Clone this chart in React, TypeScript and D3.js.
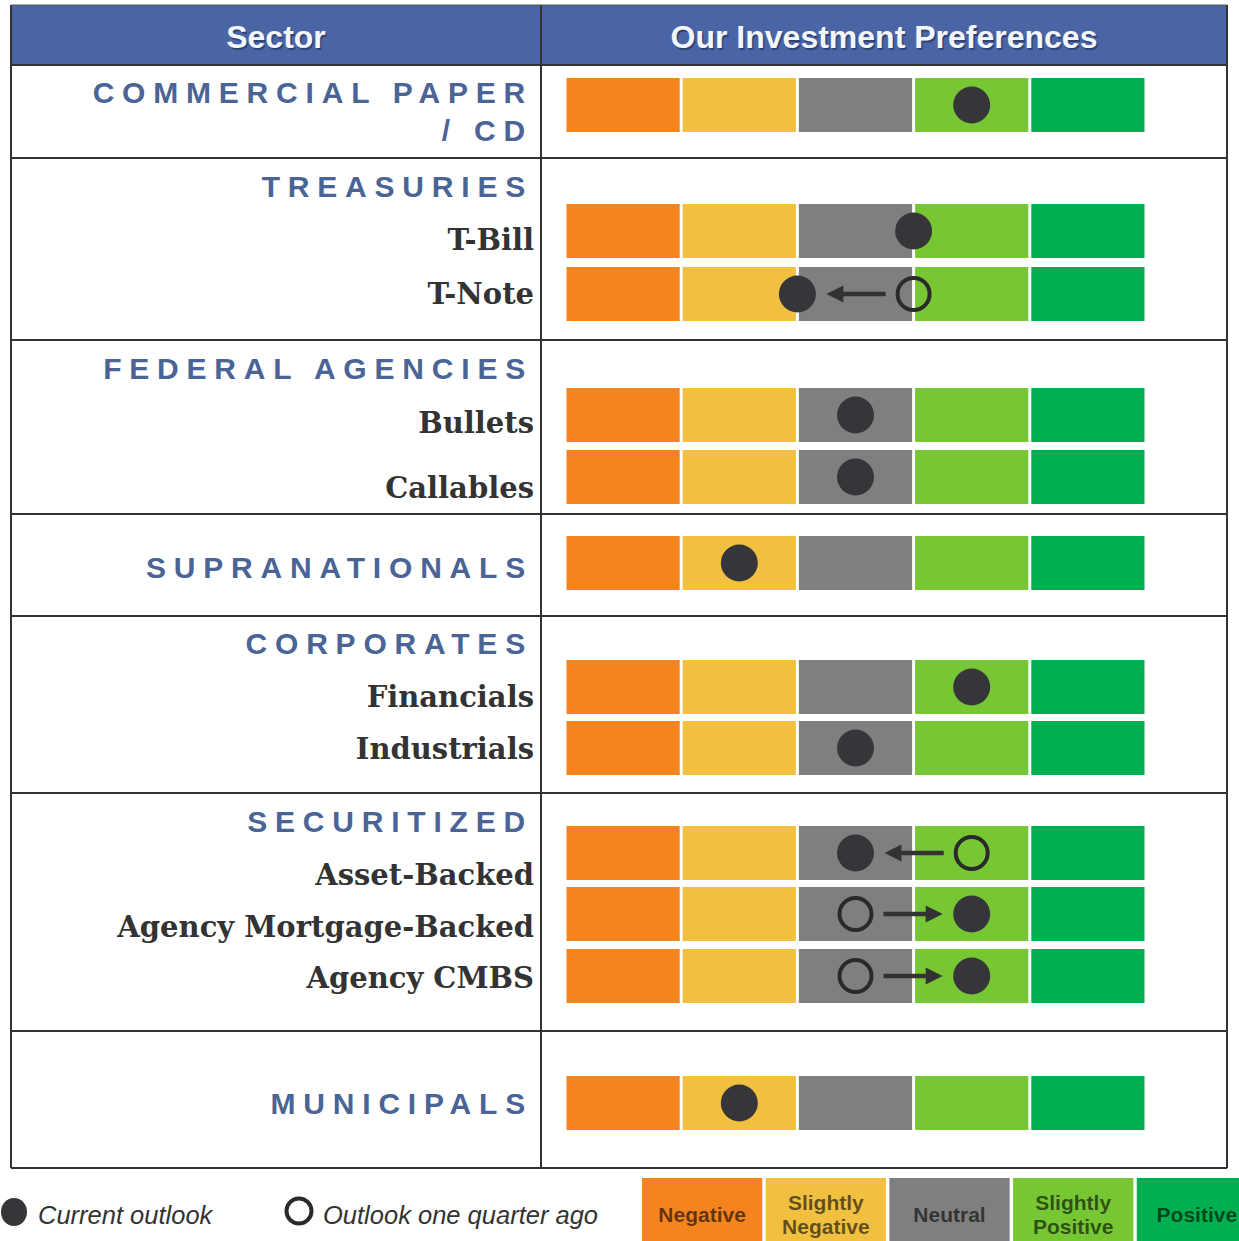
import React from "react";
import * as d3 from "d3";

// ---------- data ----------
const columnHeaders = ["Sector", "Our Investment Preferences"];
const sectorHeadings = [
  ["COMMERCIAL PAPER", "/ CD"],
  ["TREASURIES"],
  ["FEDERAL AGENCIES"],
  ["SUPRANATIONALS"],
  ["CORPORATES"],
  ["SECURITIZED"],
  ["MUNICIPALS"],
];
const rowLabels = [
  "",
  "T-Bill",
  "T-Note",
  "Bullets",
  "Callables",
  "",
  "Financials",
  "Industrials",
  "Asset-Backed",
  "Agency Mortgage-Backed",
  "Agency CMBS",
  "",
];
const rowSector = [0, 1, 1, 2, 2, 3, 4, 4, 5, 5, 5, 6];
// -2 Negative, -1 Slightly Negative, 0 Neutral, 1 Slightly Positive, 2 Positive
const currentOutlook = [1, 0.5, -0.5, 0, 0, -1, 1, 0, 0, 1, 1, -1];
const priorOutlook: (number | null)[] = [null, null, 0.5, null, null, null, null, null, 1, 0, 0, null];
const ratingValues = [-2, -1, 0, 1, 2];
const ratingLabels = [["Negative"], ["Slightly", "Negative"], ["Neutral"], ["Slightly", "Positive"], ["Positive"]];
const ratingColors = ["#f5841f", "#f1c040", "#7f7f7f", "#76c733", "#00b050"];
const legendMarkers = ["Current outlook", "Outlook one quarter ago"];

// ---------- layout ----------
const W = 1239;
const H = 1241;
const tableLeft = 11;
const tableRight = 1227;
const tableTop = 5;
const headerBottom = 65;
const colDivider = 541;
const sectionLines = [65, 158, 340, 514, 616, 793, 1031, 1168];
const headingBaselines = [[103, 141], [197], [379], [578], [654], [832], [1114]];
const labelBaselines = [0, 250, 304, 433, 498, 0, 707, 759, 885, 937, 988, 0];
const barTops = [78, 204, 267, 388, 450, 536, 660, 721, 826, 887, 949, 1076];
const barH = 54;

const SANS = "'Liberation Sans', Arial, Helvetica, sans-serif";
const SERIF = "'DejaVu Serif', Georgia, serif";
const DARK = "#333333";

export default function App() {
  const x = d3.scaleLinear().domain([-2.5, 2.5]).range([565, 1146]);
  const legendX = d3
    .scaleBand<number>()
    .domain(ratingValues)
    .range([642, 1257])
    .paddingInner(0.028)
    .paddingOuter(0);
  const color = d3.scaleOrdinal<number, string>().domain(ratingValues).range(ratingColors);
  const tableBottom = sectionLines[sectionLines.length - 1];
  const ls = 7.8;

  return (
    <svg
      width={W}
      height={H}
      viewBox={`0 0 ${W} ${H}`}
      style={{ position: "absolute", left: 0, top: 0, background: "#fff" }}
    >
      <rect x={0} y={0} width={W} height={H} fill="#fff" />
      {/* header */}
      <rect x={tableLeft} y={tableTop} width={tableRight - tableLeft} height={headerBottom - tableTop} fill="#4a65a5" />
      {columnHeaders.map((h, i) => {
        const cx = i === 0 ? (tableLeft + colDivider) / 2 : (colDivider + tableRight) / 2;
        return (
          <g key={h}>
            <text x={cx + 1.5} y={49.5} textAnchor="middle" fontFamily={SANS} fontWeight="bold" fontSize={32} fill="#1c2a4d" opacity={0.55}>
              {h}
            </text>
            <text x={cx} y={48} textAnchor="middle" fontFamily={SANS} fontWeight="bold" fontSize={32} fill="#f4f6fa">
              {h}
            </text>
          </g>
        );
      })}

      {/* bars */}
      {rowLabels.map((_, r) => (
        <g key={"bar" + r}>
          {ratingValues.map((v) => (
            <rect
              key={v}
              x={x(v - 0.5) + 1.5}
              y={barTops[r]}
              width={x(v + 0.5) - x(v - 0.5) - 3}
              height={barH}
              fill={color(v)}
            />
          ))}
        </g>
      ))}

      {/* arrows + markers */}
      {rowLabels.map((_, r) => {
        const cy = barTops[r] + barH / 2;
        const cur = currentOutlook[r];
        const prev = priorOutlook[r];
        const els: React.ReactNode[] = [];
        if (prev !== null && prev !== undefined) {
          const d = Math.sign(cur - prev);
          const tail = x(prev) + d * 28;
          const tip = x(cur) - d * 29;
          els.push(
            <line key="l" x1={tail} y1={cy} x2={tip - d * 12} y2={cy} stroke={DARK} strokeWidth={4.5} />,
            <polygon
              key="h"
              points={`${tip},${cy} ${tip - d * 17},${cy - 8.5} ${tip - d * 17},${cy + 8.5}`}
              fill={DARK}
            />,
            <circle key="p" cx={x(prev)} cy={cy} r={16} fill="none" stroke="#2a2a2a" strokeWidth={4} />
          );
        }
        els.push(<circle key="c" cx={x(cur)} cy={cy} r={18.5} fill="#35353a" />);
        return <g key={"m" + r}>{els}</g>;
      })}

      {/* sector headings */}
      {sectorHeadings.map((lines, s) =>
        lines.map((t, j) => (
          <text
            key={s + "-" + j}
            x={533}
            y={headingBaselines[s][j]}
            textAnchor="end"
            fontFamily={SANS}
            fontWeight="bold"
            fontSize={30}
            letterSpacing={ls}
            fill="#4b6496"
          >
            {t}
          </text>
        ))
      )}

      {/* sub-sector labels */}
      {rowLabels.map((t, r) =>
        t ? (
          <text key={"lab" + r} x={534} y={labelBaselines[r]} textAnchor="end" fontFamily={SERIF} fontWeight="bold" fontSize={29} fill={DARK}>
            {t}
          </text>
        ) : null
      )}

      {/* table lines */}
      {sectionLines.map((y, i) => (
        <line key={"h" + i} x1={tableLeft} x2={tableRight} y1={y} y2={y} stroke={DARK} strokeWidth={2} />
      ))}
      <line x1={tableLeft} x2={tableLeft} y1={tableTop} y2={tableBottom} stroke={DARK} strokeWidth={2} />
      <line x1={tableRight} x2={tableRight} y1={tableTop} y2={tableBottom} stroke={DARK} strokeWidth={2} />
      <line x1={colDivider} x2={colDivider} y1={tableTop} y2={tableBottom} stroke={DARK} strokeWidth={2} />
      <line x1={tableLeft} x2={tableRight} y1={tableTop} y2={tableTop} stroke="#555" strokeWidth={1} />

      {/* marker legend */}
      <ellipse cx={14} cy={1212} rx={13} ry={14} fill="#35353a" />
      <text x={38} y={1224} fontFamily={SANS} fontStyle="italic" fontSize={25.5} fill={DARK}>
        {legendMarkers[0]}
      </text>
      <circle cx={299} cy={1211} r={12.5} fill="none" stroke="#2a2a2a" strokeWidth={4} />
      <text x={323} y={1224} fontFamily={SANS} fontStyle="italic" fontSize={25.5} fill={DARK}>
        {legendMarkers[1]}
      </text>

      {/* rating legend */}
      {ratingValues.map((v, i) => {
        const bx = legendX(v)!;
        const cx = bx + legendX.bandwidth() / 2;
        const lines = ratingLabels[i];
        const ys = lines.length === 1 ? [1222] : [1210, 1234];
        return (
          <g key={"lg" + v}>
            <rect x={bx} y={1178} width={legendX.bandwidth()} height={H - 1178} fill={color(v)} />
            {lines.map((t, j) => (
              <text key={j} x={cx} y={ys[j]} textAnchor="middle" fontFamily={SANS} fontWeight="bold" fontSize={21} fill="#000" fillOpacity={0.6}>
                {t}
              </text>
            ))}
          </g>
        );
      })}
    </svg>
  );
}
